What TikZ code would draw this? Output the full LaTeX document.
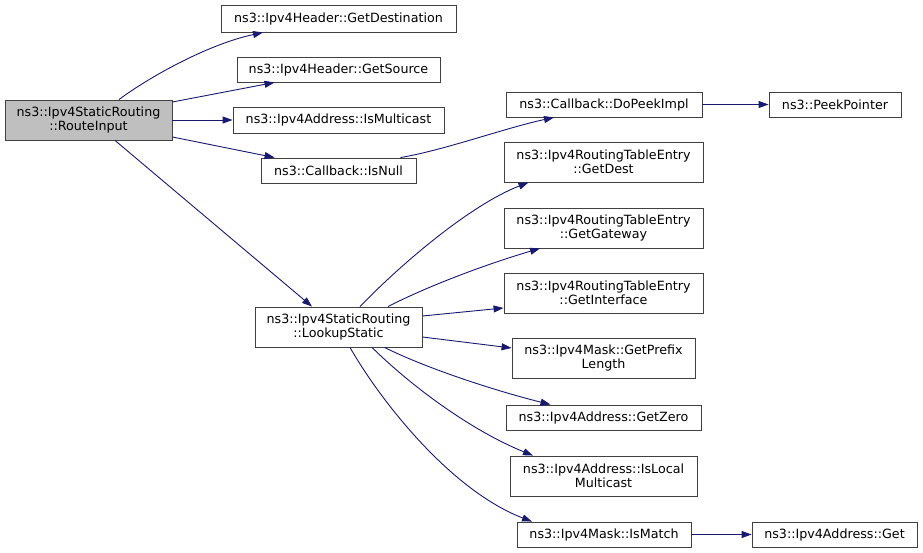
\documentclass[tikz,border=0pt]{standalone}
\usepackage{fontspec}
\setmainfont{DejaVu Sans}
\usetikzlibrary{arrows.meta,calc}
\definecolor{edgec}{HTML}{191970}
\definecolor{boxc}{HTML}{404040}
\tikzset{
  fn/.style={draw=boxc, line width=0.9pt, fill=white, inner sep=0pt, align=center,
    font=\fontsize{12.7}{14}\selectfont, text=black},
  cur/.style={fn, fill=black!25},
  call/.style={draw=edgec, line width=0.9pt, -{Triangle[length=10pt,width=7pt]}},
}
\begin{document}
\begin{tikzpicture}[x=1pt,y=-1pt]
\useasboundingbox[fill=white] (0,0) rectangle (923,553);
\node[cur, minimum width=167pt, minimum height=40pt] (rin) at (88.5,120) {ns3::Ipv4StaticRouting\\::RouteInput};
\node[fn, minimum width=235pt, minimum height=27pt] (gdst) at (338.5,18.5) {ns3::Ipv4Header::GetDestination};
\node[fn, minimum width=203pt, minimum height=25pt] (gsrc) at (338.5,69.5) {ns3::Ipv4Header::GetSource};
\node[fn, minimum width=211pt, minimum height=26pt] (ismc) at (338.5,120) {ns3::Ipv4Address::IsMulticast};
\node[fn, minimum width=155pt, minimum height=25pt] (isnull) at (338.5,170.5) {ns3::Callback::IsNull};
\node[fn, minimum width=196pt, minimum height=25pt] (dopeek) at (604,104.5) {ns3::Callback::DoPeekImpl};
\node[fn, minimum width=132pt, minimum height=25pt] (peek) at (835,104.5) {ns3::PeekPointer};
\node[fn, minimum width=199pt, minimum height=40pt] (gdest) at (603.5,162) {ns3::Ipv4RoutingTableEntry\\::GetDest};
\node[fn, minimum width=199pt, minimum height=40pt] (ggw) at (603.5,228) {ns3::Ipv4RoutingTableEntry\\::GetGateway};
\node[fn, minimum width=199pt, minimum height=40pt] (gif) at (603.5,293) {ns3::Ipv4RoutingTableEntry\\::GetInterface};
\node[fn, minimum width=167pt, minimum height=40pt] (lookup) at (338.5,327) {ns3::Ipv4StaticRouting\\::LookupStatic};
\node[fn, minimum width=183pt, minimum height=40pt] (gpl) at (603.5,358) {ns3::Ipv4Mask::GetPrefix\\Length};
\node[fn, minimum width=195pt, minimum height=25pt] (gzero) at (603.5,417.5) {ns3::Ipv4Address::GetZero};
\node[fn, minimum width=187pt, minimum height=40pt] (islm) at (603.5,476) {ns3::Ipv4Address::IsLocal\\Multicast};
\node[fn, minimum width=174pt, minimum height=25pt] (ismatch) at (604,534.5) {ns3::Ipv4Mask::IsMatch};
\node[fn, minimum width=165pt, minimum height=25pt] (get) at (834.5,534.5) {ns3::Ipv4Address::Get};

\draw[call] ($(rin.north)+(30.5,0)$) .. controls (145,80) and (205,45) .. ($(gdst.south)+(-75.5,0)$);
\draw[call] ($(rin.east)+(0,-18)$) -- ($(gsrc.south west)+(38,0)$);
\draw[call] (rin.east) -- (ismc.west);
\draw[call] ($(rin.east)+(0,17)$) -- ($(isnull.north west)+(14,0)$);
\draw[call] ($(rin.south)+(26.5,0)$) -- ($(lookup.north)+(-26.5,0)$);
\draw[call] ($(isnull.north)+(62,0)$) .. controls (445,150) and (505,128) .. ($(dopeek.south)+(-50,0)$);
\draw[call] (dopeek.east) -- (peek.west);
\draw[call] ($(lookup.north)+(21.5,0)$) .. controls (400,265) and (470,205) .. ($(gdest.south)+(-75,0)$);
\draw[call] ($(lookup.north)+(49.5,0)$) .. controls (430,285) and (490,263) .. ($(ggw.south)+(-63.5,0)$);
\draw[call] ($(lookup.east)+(0,-11)$) -- ($(gif.west)+(0,15)$);
\draw[call] ($(lookup.east)+(0,10)$) -- ($(gpl.west)+(0,-10)$);
\draw[call] ($(lookup.south)+(46,0)$) .. controls (430,370) and (500,392) .. ($(gzero.north)+(-53,0)$);
\draw[call] ($(lookup.south)+(33.5,0)$) .. controls (410,385) and (470,430) .. ($(islm.north)+(-70.5,0)$);
\draw[call] ($(lookup.south)+(11.5,0)$) .. controls (380,400) and (450,490) .. ($(ismatch.north)+(-72,0)$);
\draw[call] (ismatch.east) -- (get.west);
\end{tikzpicture}
\end{document}
